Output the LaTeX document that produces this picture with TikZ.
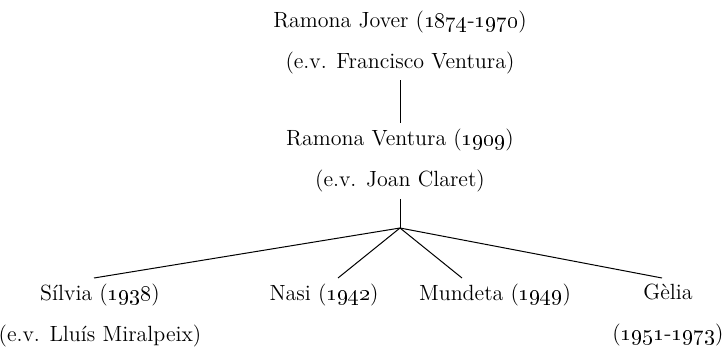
\documentclass[tikz,border=0pt]{standalone}
\begin{document}
\begin{tikzpicture}[
    x=0.5pt, y=-0.5pt,
    person/.style={align=center, inner sep=3pt, font=\fontsize{11}{20.5}\selectfont},
    link/.style={line width=0.5pt},
    ]
    \useasboundingbox (0, 0) rectangle (724, 348);

    \node[person] (jover) at (400, 42.5) {Ramona Jover (\oldstylenums{1874}-\oldstylenums{1970})\\(e.v. Francisco Ventura)};
    \node[person] (ventura) at (400, 161) {Ramona Ventura (\oldstylenums{1909})\\(e.v. Joan Claret)};
    \coordinate (fork) at (400, 228);

    \node[person, anchor=north] (silvia) at (100, 278) {Sílvia (\oldstylenums{1938})\\(e.v. Lluís Miralpeix)};
    \node[person, anchor=north] (nasi) at (324, 278) {Nasi (\oldstylenums{1942})};
    \node[person, anchor=north] (mundeta) at (495, 278) {Mundeta (\oldstylenums{1949})};
    \node[person, anchor=north] (gelia) at (668, 278) {Gèlia\\(\oldstylenums{1951}-\oldstylenums{1973})};

    \draw[link] (jover) -- (ventura);
    \draw[link] (ventura) -- (fork);
    \draw[link] (fork) -- ([xshift=-3pt]silvia.north);
    \draw[link] (fork) -- ([xshift=7pt]nasi.north);
    \draw[link] (fork) -- ([xshift=-16.5pt]mundeta.north);
    \draw[link] (fork) -- ([xshift=-3pt]gelia.north);
\end{tikzpicture}
\end{document}
